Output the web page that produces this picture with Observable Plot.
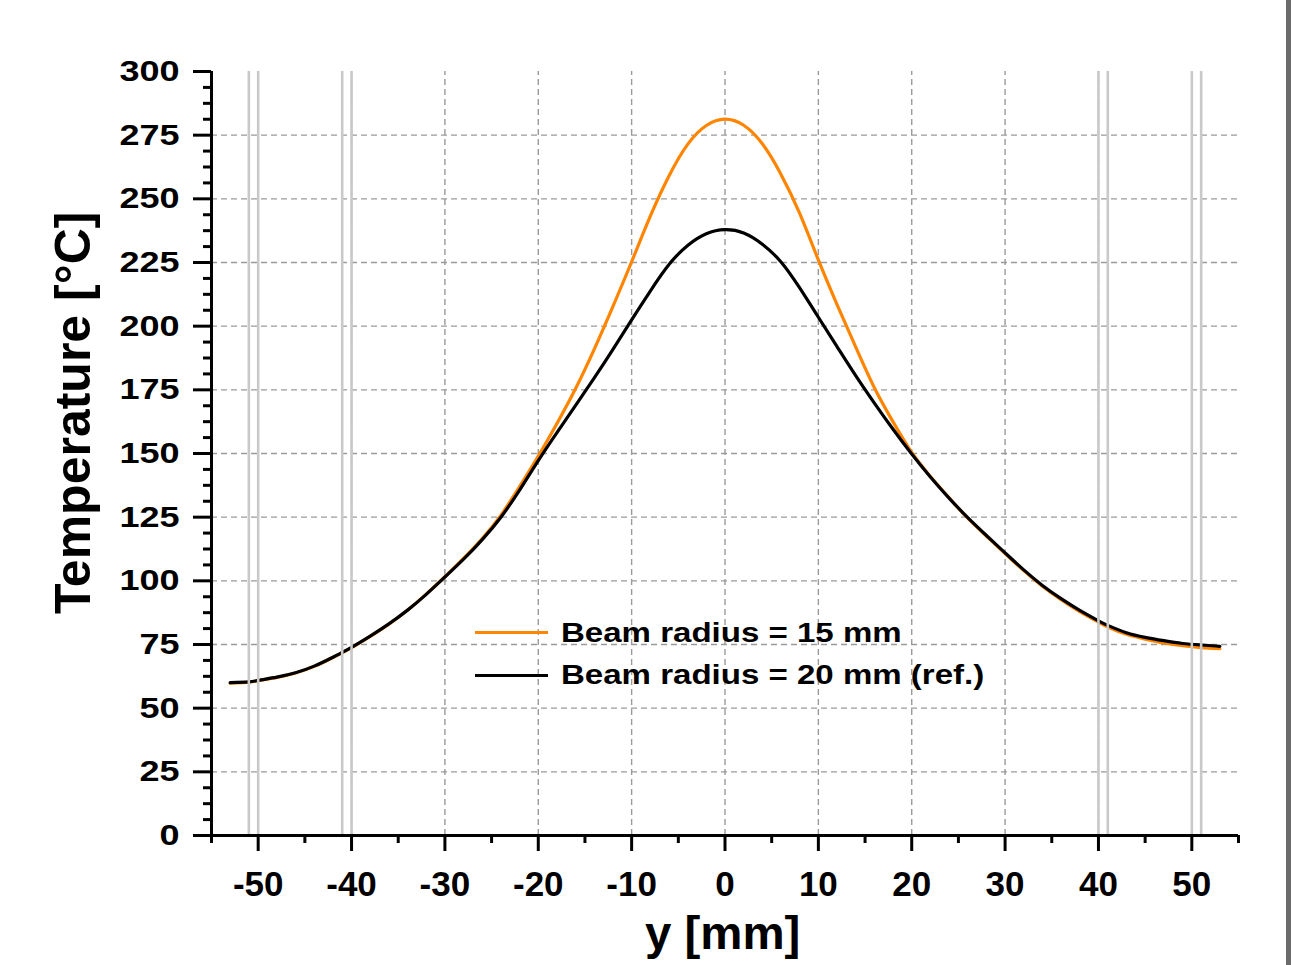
<!DOCTYPE html>
<html><head><meta charset="utf-8">
<script src="https://cdn.jsdelivr.net/npm/d3@7"></script>
<script src="https://cdn.jsdelivr.net/npm/@observablehq/plot@0.6"></script>
<style>
html,body{margin:0;padding:0;background:#fff;overflow:hidden;width:1291px;height:965px}
#wrap{position:relative;width:1291px;height:965px}
#chart{position:absolute;left:0;top:0}
#bar{position:absolute;left:1286px;top:0;width:5px;height:965px;background:#6b6b6b}
.t{position:absolute;font-family:"Liberation Sans",Arial,sans-serif;font-weight:bold;color:#000;white-space:nowrap;line-height:1}
.sw{position:absolute;height:3px}
</style></head><body><div id="wrap"><div id="chart"></div><div id="bar"></div></div>
<script>
// ---- data ----
const yPos = [-53,-51,-50,-48,-46,-44,-42,-40,-38,-36,-34,-32,-30,-28,-26,-24,-22,-20,-18,-16,-14,-12,-10,-8,-6,-4,-2,0,2,4,6,8,10,12,14,16,18,20,22,24,26,28,30,32,34,36,38,40,41,43,45,47,49,51,53];
const tempR15 = [59.8,60.2,60.8,62.1,63.8,66.4,69.9,73.8,78.2,83.0,88.5,94.8,101.6,108.8,116.6,125.8,137.0,149.0,161.8,175.5,191.0,207.8,225.3,243.2,259.0,271.4,278.8,281.3,278.9,271.6,259.6,244.3,226.0,208.5,191.8,175.8,162.4,150.4,141.0,132.6,124.6,117.6,110.7,104.0,97.9,92.6,87.9,83.8,81.9,79.0,77.1,75.6,74.5,73.8,73.4];
const tempR20 = [60.0,60.3,60.9,62.2,63.9,66.5,70.0,73.9,78.3,83.1,88.5,94.7,101.5,108.5,116.2,125.0,135.6,147.2,158.2,168.9,179.7,190.9,202.5,213.8,224.2,231.7,236.3,237.9,236.6,232.2,225.2,215.0,203.5,192.0,180.6,169.8,159.5,149.8,140.8,132.5,124.8,117.8,111.0,104.3,98.2,93.0,88.4,84.3,82.5,79.6,77.8,76.5,75.4,74.8,74.3];
const seriesNames = ["Beam radius = 15 mm", "Beam radius = 20 mm (ref.)"];
const seriesColors = ["#ff8500", "#000000"];
const boundaryLines = [-51,-50,-41,-40,40,41,50,51];
const xMajorTicks = [-50,-40,-30,-20,-10,0,10,20,30,40,50];
const xMinorTicks = [-55,-45,-35,-25,-15,-5,5,15,25,35,45,55];
const yMajorTicks = [0,25,50,75,100,125,150,175,200,225,250,275,300];
const yGridTicks = [25,50,75,100,125,150,175,200,225,250,275];
const yMinorTicks = d3.range(0, 300.01, 6.25).filter(v => v % 25 !== 0);
const xDomain = [-55, 55];
const yDomain = [0, 300];
const xTitle = "y [mm]";
const yTitle = "Temperature [°C]";

const rows20 = yPos.map((x, i) => ({y: x, t: tempR20[i], s: seriesNames[1]}));
const rows15 = yPos.map((x, i) => ({y: x, t: tempR15[i], s: seriesNames[0]}));

const FONT = '"Liberation Sans", Arial, sans-serif';
const SXY = 1.2;
const fmt = d => String(d);

const plot = Plot.plot({
  width: 1286, height: 965,
  marginLeft: 211, marginRight: 48, marginTop: 71, marginBottom: 130,
  style: {fontFamily: FONT, fontWeight: "bold", background: "transparent", overflow: "visible"},
  x: {domain: xDomain, axis: null, label: null},
  y: {domain: yDomain, axis: null, label: null},
  marks: [
    Plot.ruleX(xMajorTicks, {y1: 0, y2: 300, stroke: "#9a9a9a", strokeWidth: 1.4, strokeDasharray: "6,4"}),
    Plot.ruleY(yGridTicks, {x1: -55, x2: 55, stroke: "#9a9a9a", strokeWidth: 1.4, strokeDasharray: "6,4"}),
    Plot.line(rows15, {x: "y", y: "t", stroke: seriesColors[0], strokeWidth: 3.2, curve: "natural"}),
    Plot.line(rows20, {x: "y", y: "t", stroke: seriesColors[1], strokeWidth: 3.2, curve: "natural"}),
    Plot.ruleX(boundaryLines, {y1: 0, y2: 300, stroke: "#c9c9c9", strokeWidth: 2.6}),
    Plot.axisX({ticks: xMinorTicks, tickSize: 8, strokeWidth: 3, text: null, stroke: "#000", label: null}),
    Plot.axisX({ticks: xMajorTicks, tickSize: 16, strokeWidth: 3, stroke: "#000", tickPadding: 20, fontSize: 35, fontWeight: "bold", fill: "#000", label: null, tickFormat: fmt}),
    Plot.axisY({ticks: yMinorTicks, tickSize: 8, strokeWidth: 3, text: null, stroke: "#000", label: null}),
    Plot.axisY({ticks: yMajorTicks, tickSize: 18, strokeWidth: 3, stroke: "#000", tickPadding: 14, fontSize: 30, fontWeight: "bold", fill: "#000", label: null, tickFormat: fmt}),
    Plot.ruleY([0], {x1: -55, x2: 55, stroke: "#000", strokeWidth: 3}),
    Plot.ruleX([-55], {y1: 0, y2: 300, stroke: "#000", strokeWidth: 3})
  ]
});
document.getElementById("chart").appendChild(plot);

// horizontal stretch of y tick labels to match reference glyph widths
plot.querySelectorAll('g[aria-label="y-axis tick label"] text').forEach(el => {
  const tr = el.getAttribute("transform") || "";
  el.setAttribute("transform", tr + ` scale(${SXY},1)`);
});

// legend and titles as HTML text
const wrap = document.getElementById("wrap");
function addText(txt, left, top, size, tf) {
  const d = document.createElement("div");
  d.className = "t";
  d.textContent = txt;
  d.style.left = left + "px";
  d.style.top = top + "px";
  d.style.fontSize = size + "px";
  d.style.transformOrigin = "0 0";
  d.style.transform = tf;
  wrap.appendChild(d);
  return d;
}
function addSwatch(color, left, top, w) {
  const s = document.createElement("div");
  s.className = "sw";
  s.style.left = left + "px"; s.style.top = top + "px"; s.style.width = w + "px";
  s.style.background = color;
  wrap.appendChild(s);
}
addSwatch(seriesColors[0], 475, 631, 73);
addSwatch(seriesColors[1], 475, 674, 73);
addText(seriesNames[0], 561, 619, 28, "scaleX(1.18)");
addText(seriesNames[1], 561, 661, 28, "scaleX(1.18)");
addText(xTitle, 645, 910, 46, "scaleX(1.03)");
addText(yTitle, 48, 614, 50, "rotate(-90deg)");
</script></body></html>
